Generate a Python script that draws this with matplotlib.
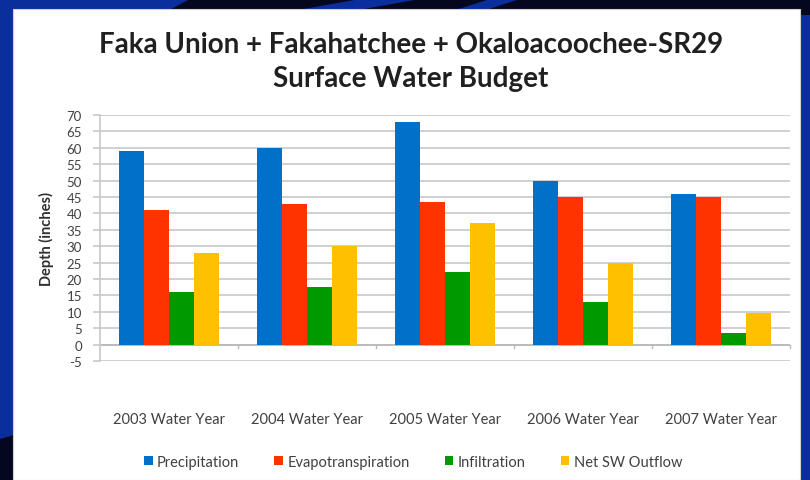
import numpy as np
import matplotlib
matplotlib.use("Agg")
import matplotlib.pyplot as plt
from matplotlib.patches import Rectangle, Polygon

# data (inches)
years = ["2003 Water Year", "2004 Water Year", "2005 Water Year", "2006 Water Year", "2007 Water Year"]
precipitation = [59, 60, 68, 50, 46]
evapotranspiration = [41, 43, 43.5, 45, 45]
infiltration = [16, 17.5, 22, 13, 3.5]
net_sw_outflow = [28, 30, 37, 25, 9.5]

series = [("Precipitation", precipitation, "#0070C8"),
          ("Evapotranspiration", evapotranspiration, "#FF3300"),
          ("Infiltration", infiltration, "#009A00"),
          ("Net SW Outflow", net_sw_outflow, "#FFC000")]

W, H = 810, 481
plt.rcParams['font.family'] = ['Lato', 'DejaVu Sans']
plt.rcParams['axes.unicode_minus'] = False
fig = plt.figure(figsize=(W / 100, H / 100), dpi=100)
fig.patch.set_facecolor("#0A2F9C")

def fx(px):
    return px / W

def fy(py):
    return 1 - py / H

# slide background bits: dark band on top with blue stripes, dark corner bottom-left
fig.patches.append(Polygon([(fx(190), fy(0)), (fx(810), fy(0)), (fx(810), fy(16)), (fx(160), fy(16))],
                           closed=True, transform=fig.transFigure, facecolor="#05071E", edgecolor="none", zorder=0))
fig.patches.append(Polygon([(fx(360), fy(0)), (fx(420), fy(0)), (fx(330), fy(16)), (fx(270), fy(16))],
                           closed=True, transform=fig.transFigure, facecolor="#0A2F9C", edgecolor="none", zorder=0))
fig.patches.append(Polygon([(fx(490), fy(0)), (fx(520), fy(0)), (fx(470), fy(16)), (fx(440), fy(16))],
                           closed=True, transform=fig.transFigure, facecolor="#0A2F9C", edgecolor="none", zorder=0))
fig.patches.append(Polygon([(fx(0), fy(440)), (fx(14), fy(436)), (fx(14), fy(481)), (fx(0), fy(481))],
                           closed=True, transform=fig.transFigure, facecolor="#05071E", edgecolor="none", zorder=0))
# white chart panel
fig.patches.append(Rectangle((fx(13), fy(481)), fx(787), fy(10) - fy(481), transform=fig.transFigure,
                             facecolor="white", edgecolor="#D0D0D0", linewidth=0.8, zorder=1))

ax = fig.add_axes([fx(100), fy(362), fx(690), fy(116) - fy(362)])
ax.set_facecolor("none")
ax.set_zorder(2)

x = np.arange(len(years))
bw = 0.18
for i, (name, vals, col) in enumerate(series):
    ax.bar(x + (i - 1.5) * bw, vals, bw, color=col, label=name, zorder=3)

ax.set_xlim(-0.5, len(years) - 0.5)
ax.set_ylim(-5, 70)
ax.set_yticks(np.arange(-5, 71, 5))
ax.grid(axis="y", color="#C8C8C8", linewidth=1.2, zorder=0)
ax.axhline(0, color="#B8B8B8", linewidth=1.2, zorder=2)
# category boundary tick marks on the zero line
for b in np.arange(0.5, len(years) - 0.5 + 0.01, 1.0):
    ax.plot([b, b], [0, -0.9], color="#B8B8B8", linewidth=1, zorder=2, clip_on=False)

for s in ["top", "right", "bottom"]:
    ax.spines[s].set_visible(False)
ax.spines["left"].set_color("#C8C8C8")
ax.spines["left"].set_linewidth(1.2)

ax.set_xticks(x)
ax.set_xticklabels(years, fontsize=10.5, color="#404040")
ax.tick_params(axis="x", length=0, pad=37)
ax.tick_params(axis="y", length=5, width=1.2, color="#C8C8C8", labelsize=9.5, labelcolor="#404040", pad=8)
ax.set_ylabel("Depth (inches)", fontsize=10.5, fontweight="bold", color="#303030", labelpad=9)

fig.text(fx(411), fy(45), "Faka Union + Fakahatchee + Okaloacoochee-SR29",
         ha="center", va="center", fontsize=20, fontweight="bold", color="#202020", zorder=5)
fig.text(fx(411), fy(79), "Surface Water Budget",
         ha="center", va="center", fontsize=20, fontweight="bold", color="#202020", zorder=5)

leg = fig.legend(loc="center", bbox_to_anchor=(fx(413), fy(463)), ncol=4, frameon=False,
                 fontsize=10.5, handlelength=0.6, handleheight=0.6, handletextpad=0.3, columnspacing=2.4)
for t in leg.get_texts():
    t.set_color("#404040")

fig.savefig("out.png", dpi=100, facecolor=fig.get_facecolor())
